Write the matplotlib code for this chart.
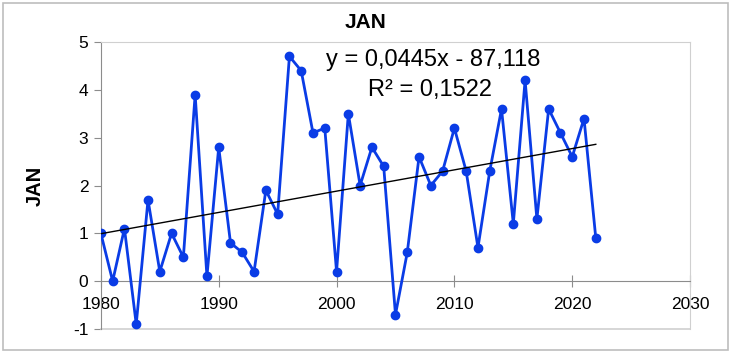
import numpy as np
import matplotlib.pyplot as plt
from matplotlib.patches import Rectangle

plt.rcParams['font.family'] = ['Liberation Sans', 'DejaVu Sans']
plt.rcParams['axes.unicode_minus'] = False

years = list(range(1980, 2023))
jan = [1.0, 0.0, 1.1, -0.9, 1.7, 0.2, 1.0, 0.5, 3.9, 0.1,
       2.8, 0.8, 0.6, 0.2, 1.9, 1.4, 4.7, 4.4, 3.1, 3.2,
       0.2, 3.5, 2.0, 2.8, 2.4, -0.7, 0.6, 2.6, 2.0, 2.3,
       3.2, 2.3, 0.7, 2.3, 3.6, 1.2, 4.2, 1.3, 3.6, 3.1,
       2.6, 3.4, 0.9]
slope = 0.0445
intercept = -87.118
r2_text = 'R² = 0,1522'
eq_text = 'y = 0,0445x - 87,118'

x = np.array(years)
trend = slope * x + intercept

fig = plt.figure(figsize=(7.31, 3.53), dpi=100)
ax = fig.add_axes([0.138, 0.068, 0.806, 0.813])

ax.plot(x, jan, color='#0A3CE6', lw=2.0, marker='o', ms=6, zorder=3)
ax.plot([x[0], x[-1]], [trend[0], trend[-1]], color='black', lw=1.0, zorder=4)

ax.set_xlim(1980, 2030)
ax.set_ylim(-1, 5)
ax.set_xticks(range(1980, 2031, 10))
ax.set_yticks(range(-1, 6))

# x axis sits on y = 0
ax.spines['bottom'].set_position(('data', 0))
ax.spines['bottom'].set_color('#8c8c8c')
ax.spines['left'].set_color('#8c8c8c')
ax.spines['top'].set_color('#d0d0d0')
ax.spines['right'].set_color('#d0d0d0')
ax.tick_params(axis='x', direction='inout', length=9, color='#8c8c8c', labelsize=12.5, pad=7)
ax.tick_params(axis='y', direction='out', length=5, color='#8c8c8c', labelsize=12.5, pad=4)
# bottom frame line of the plot area
ax.axhline(-1, color='#d0d0d0', lw=1.2, clip_on=False)

ax.set_ylabel('JAN', fontsize=14.5, fontweight='bold', labelpad=20)
fig.text(0.5, 0.937, 'JAN', ha='center', va='center', fontsize=15, fontweight='bold')

ax.text(1999.1, 4.62, eq_text, ha='left', va='center', fontsize=17)
ax.text(2002.7, 3.99, r2_text, ha='left', va='center', fontsize=17)

fig.patches.append(Rectangle((0.004, 0.008), 0.992, 0.984, transform=fig.transFigure,
                             fill=False, ec='#bdbdbd', lw=1.2))

fig.savefig('out.png', dpi=100)
